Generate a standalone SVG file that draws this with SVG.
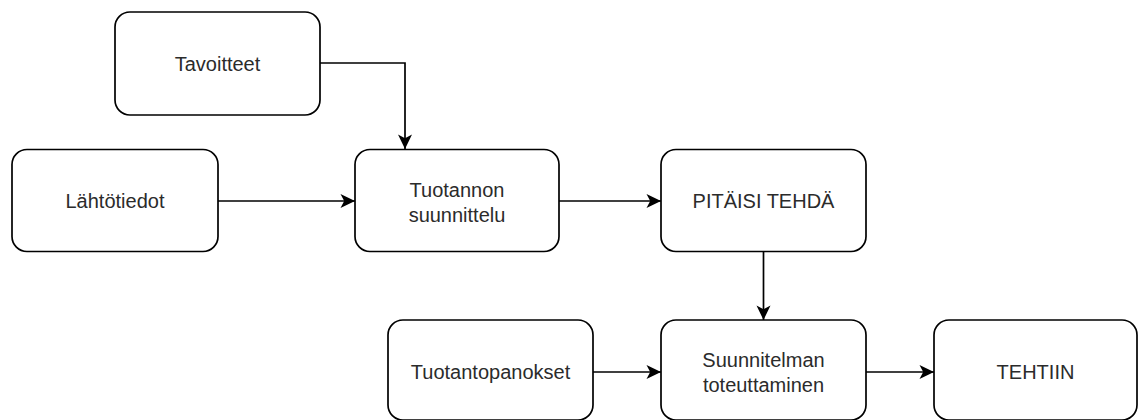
<svg xmlns="http://www.w3.org/2000/svg" width="1139" height="420" viewBox="0 0 1139 420">
  <style>
    .box { fill: #ffffff; stroke: #000000; stroke-width: 1.7; }
    .label { font-family: "Liberation Sans", Arial, sans-serif; font-size: 20px; fill: #2b2b2b; text-anchor: middle; }
    .edge { fill: none; stroke: #000000; stroke-width: 1.7; marker-end: url(#arrow); }
  </style>
  <defs>
    <!-- classic block arrowhead with a notched back -->
    <marker id="arrow" viewBox="0 0 16 16" markerWidth="16" markerHeight="16" refX="15" refY="8" orient="auto" markerUnits="userSpaceOnUse">
      <path d="M0.5,1 L15,8 L0.5,15 L4.2,8 Z" fill="#000000"/>
    </marker>
  </defs>
  <rect width="1139" height="420" fill="#ffffff"/>

  <g id="connectors">
    <path class="edge" d="M320,63 H405 V149"/>
    <path class="edge" d="M218,201 H355"/>
    <path class="edge" d="M559,201 H661"/>
    <path class="edge" d="M763.5,251 V320"/>
    <path class="edge" d="M593,372 H661"/>
    <path class="edge" d="M866,372 H934"/>
  </g>

  <g id="tavoitteet">
    <rect class="box" x="115" y="12" width="205" height="103" rx="15" ry="15"/>
    <text class="label" x="217.5" y="71">Tavoitteet</text>
  </g>

  <g id="lahtotiedot">
    <rect class="box" x="12" y="149.5" width="206" height="102" rx="15" ry="15"/>
    <text class="label" x="115" y="208">Lähtötiedot</text>
  </g>

  <g id="tuotannon-suunnittelu">
    <rect class="box" x="355" y="149.5" width="204" height="102" rx="15" ry="15"/>
    <text class="label" x="457" y="197">Tuotannon</text>
    <text class="label" x="457" y="222">suunnittelu</text>
  </g>

  <g id="pitaisi-tehda">
    <rect class="box" x="661" y="149.5" width="205" height="102" rx="15" ry="15"/>
    <text class="label" x="763.5" y="208">PITÄISI TEHDÄ</text>
  </g>

  <g id="tuotantopanokset">
    <rect class="box" x="388" y="320" width="205" height="100" rx="15" ry="15"/>
    <text class="label" x="490.5" y="379">Tuotantopanokset</text>
  </g>

  <g id="suunnitelman-toteuttaminen">
    <rect class="box" x="661" y="320" width="205" height="100" rx="15" ry="15"/>
    <text class="label" x="763.5" y="367">Suunnitelman</text>
    <text class="label" x="763.5" y="392">toteuttaminen</text>
  </g>

  <g id="tehtiin">
    <rect class="box" x="934" y="320" width="203" height="100" rx="15" ry="15"/>
    <text class="label" x="1035.5" y="379">TEHTIIN</text>
  </g>
</svg>
